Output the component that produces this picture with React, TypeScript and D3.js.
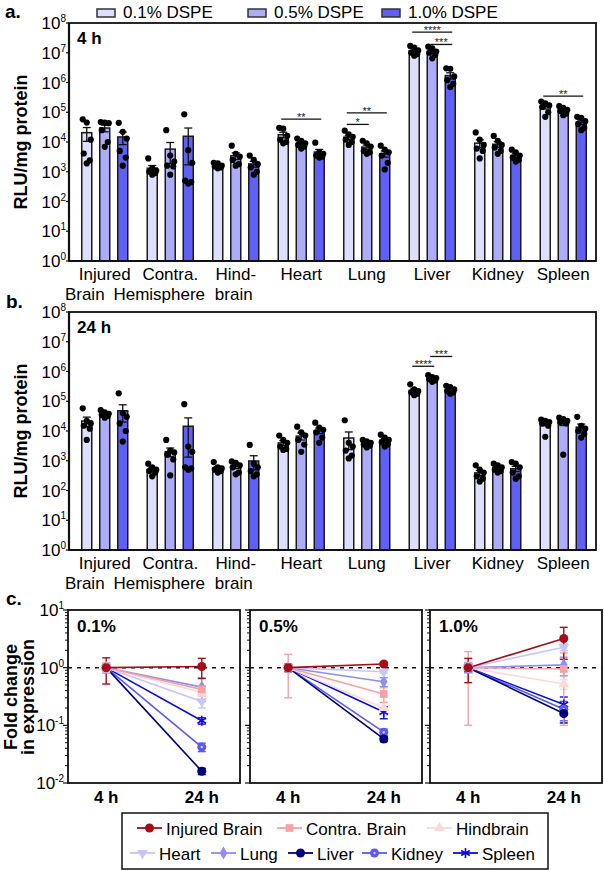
import React from 'react';
import * as d3 from 'd3';

// ---------- DATA ----------
const GROUPS = ['Injured Brain', 'Contra. Hemisphere', 'Hindbrain', 'Heart', 'Lung', 'Liver', 'Kidney', 'Spleen'];
const GROUP_LINE1 = ['Injured', 'Contra.', 'Hind-', 'Heart', 'Lung', 'Liver', 'Kidney', 'Spleen'];
const GROUP_LINE2 = ['Brain', 'Hemisphere', 'brain', '', '', '', '', ''];
const FORMS = ['0.1% DSPE', '0.5% DSPE', '1.0% DSPE'];

// individual animal values (RLU/mg protein), 4 h
const PTS_4H: number[][][] = [
  [[58000, 45000, 12000, 4100, 2400, 1900], [47000, 45000, 43000, 25000, 10000, 6900], [44000, 22000, 13000, 5000, 3000, 1600]],
  [[2800, 1300, 1100, 1000, 900, 800], [25000, 3500, 2200, 1600, 1500, 800], [85000, 5300, 2000, 500, 450, 400]],
  [[2000, 1900, 1600, 1500, 1400, 1300], [7500, 4000, 3200, 2500, 1800, 1600], [3500, 2500, 1800, 1400, 1000, 800]],
  [[30000, 28000, 16000, 12000, 10000, 9000], [13000, 11000, 9000, 8000, 7000, 6000], [9500, 4500, 4000, 3500, 3200, 3000]],
  [[24000, 18000, 15000, 12000, 10000, 8000], [11000, 9000, 7000, 5000, 4500, 4000], [7500, 5500, 4500, 3500, 2000, 1200]],
  [[1.7e7, 1.5e7, 1.2e7, 1.0e7, 9e6, 8e6], [1.6e7, 1.4e7, 1.1e7, 1.0e7, 8.5e6, 6.5e6], [3.0e6, 2.9e6, 1.6e6, 1.2e6, 9e5, 7e5]],
  [[21000, 12000, 8000, 6000, 5000, 2800], [16000, 11000, 8000, 6500, 5000, 4000], [5500, 4500, 3500, 3000, 2500, 2200]],
  [[2.3e5, 2.0e5, 1.7e5, 1.5e5, 1.0e5, 7e4], [1.6e5, 1.4e5, 1.2e5, 1.1e5, 9e4, 8e4], [7e4, 6.5e4, 5e4, 4e4, 3e4, 2.5e4]],
];
// 24 h
const PTS_24H: number[][][] = [
  [[58000, 22000, 18000, 15000, 12000, 5000], [50000, 42000, 38000, 35000, 32000, 28000], [185000, 40000, 30000, 18000, 10000, 4400]],
  [[800, 600, 500, 450, 400, 300], [5000, 2200, 1900, 1600, 1100, 320], [80000, 3000, 2000, 600, 550, 500]],
  [[900, 600, 550, 500, 450, 400], [950, 850, 700, 600, 400, 350], [3400, 800, 600, 450, 350, 300]],
  [[7000, 5000, 4000, 3000, 2500, 2300], [14000, 9000, 7000, 5000, 3500, 2000], [19000, 13000, 11000, 9000, 6000, 4000]],
  [[23000, 4000, 3000, 2200, 1500, 1200], [5000, 4500, 4000, 3500, 3200, 2800], [7500, 6000, 5000, 4200, 3500, 3000]],
  [[3.7e5, 2.5e5, 2.2e5, 2.0e5, 1.8e5, 1.6e5], [7.5e5, 6.5e5, 6e5, 5.5e5, 5e5, 4.5e5], [3.3e5, 3e5, 2.5e5, 2.2e5, 2e5, 1.8e5]],
  [[700, 500, 400, 300, 250, 200], [800, 700, 600, 500, 450, 400], [900, 800, 600, 400, 300, 250]],
  [[24000, 22000, 20000, 18000, 15000, 6400], [28000, 25000, 22000, 20000, 18000, 1600], [30000, 15000, 12000, 10000, 8000, 6000]],
];

// significance brackets: group index, from formulation, to formulation, label, level (RLU)
const SIG_4H = [
  { g: 3, a: 0, b: 2, label: '**', level: 5.9e4 },
  { g: 4, a: 0, b: 1, label: '*', level: 3.9e4 },
  { g: 4, a: 0, b: 2, label: '**', level: 9.5e4 },
  { g: 5, a: 0, b: 2, label: '****', level: 4.9e7 },
  { g: 5, a: 1, b: 2, label: '***', level: 1.9e7 },
  { g: 7, a: 0, b: 2, label: '**', level: 3.5e5 },
];
const SIG_24H = [
  { g: 5, a: 0, b: 1, label: '****', level: 1.5e6 },
  { g: 5, a: 1, b: 2, label: '***', level: 3.2e6 },
];

const Y_TICKS_BAR = [0, 1, 2, 3, 4, 5, 6, 7, 8];

// panel c: fold change (24 h / 4 h)
const SERIES = ['Injured Brain', 'Contra. Brain', 'Hindbrain', 'Heart', 'Lung', 'Liver', 'Kidney', 'Spleen'];
const FOLD_PANELS = ['0.1%', '0.5%', '1.0%'];
const TIMES = ['4 h', '24 h'];
const FOLD_24H = [
  [1.05, 0.42, 0.37, 0.26, 0.46, 0.016, 0.042, 0.12],
  [1.16, 0.35, 0.20, 0.85, 0.57, 0.058, 0.076, 0.17],
  [3.2, 0.95, 0.52, 2.26, 1.12, 0.16, 0.19, 0.23],
];
const ERR_24H = [
  [0.4, 0.06, 0.05, 0.06, 0.2, 0.002, 0.007, 0.015],
  [0.08, 0.1, 0.05, 0.05, 0.1, 0.006, 0.01, 0.04],
  [1.8, 0.85, 0.1, 0.3, 0.4, 0.05, 0.07, 0.08],
];
const ERR_4H = [
  [0.48, 0.2, 0.15, 0.2, 0.2, 0.1, 0.15, 0.1],
  [0.15, 0.7, 0.15, 0.1, 0.1, 0.1, 0.1, 0.1],
  [0.45, 0.9, 0.3, 0.2, 0.2, 0.15, 0.15, 0.2],
];
const Y_TICKS_FOLD = [-2, -1, 0, 1];

// ---------- STYLE ----------
const BAR_COLORS = ['#dedefd', '#acacf9', '#6060f6'];
const SERIES_COLORS = ['#a50d18', '#f7a2a2', '#fbd9d9', '#c6c6fb', '#8e8ef0', '#00007c', '#5a5af2', '#0b0be4'];
const SERIES_MARKERS = ['circle', 'square', 'triangle', 'triangleDown', 'diamond', 'circle', 'circleDot', 'asterisk'];
const LINE2_SHIFT = [-20, -11, -2, 0, 0, 0, 0, 0];
const FONT = "'Liberation Sans', Arial, Helvetica, sans-serif";

function Marker({ type, color, x, y }: { type: string; color: string; x: number; y: number }) {
  const t = `translate(${x},${y})`;
  if (type === 'asterisk') {
    return <path d={d3.symbol(d3.symbolAsterisk, 70)() as string} transform={t} stroke={color} strokeWidth={1.6} fill="none" />;
  }
  if (type === 'circleDot') {
    return (
      <g transform={t}>
        <circle r={4.5} fill={color} />
        <circle r={1.2} fill="#c8c8ff" />
      </g>
    );
  }
  const symMap: Record<string, any> = {
    circle: d3.symbolCircle,
    square: d3.symbolSquare,
    triangle: d3.symbolTriangle,
    triangleDown: d3.symbolTriangle,
    diamond: d3.symbolDiamond,
  };
  const size = type === 'circle' ? 64 : type === 'square' ? 60 : 50;
  const rot = type === 'triangleDown' ? ' rotate(180)' : '';
  return <path d={d3.symbol(symMap[type], size)() as string} transform={t + rot} fill={color} />;
}

function Pow({ x, y, exp, size = 17, sup = 10 }: any) {
  return (
    <text x={x} y={y} textAnchor="end" fontSize={size}>
      10<tspan dy={-7} fontSize={sup}>{exp}</tspan>
    </text>
  );
}

function BarPanel({ top, bottom, pts, sigs, tag }: { top: number; bottom: number; pts: number[][][]; sigs: any[]; tag: string }) {
  const left = 69;
  const right = 596;
  const y = d3.scaleLog().domain([1, 1e8]).range([bottom, top]);
  const x = d3.scaleBand().domain(GROUPS).range([72, 596]);
  const xs = d3.scalePoint().domain(FORMS).range([-18, 18]);
  const bw = 10;
  const jitter = [-4, 0, 4, -3, 3, 0];
  const cx = (g: number, f: number) => (x(GROUPS[g]) as number) + x.bandwidth() / 2 + (xs(FORMS[f]) as number);
  return (
    <g>
      {GROUPS.map((gname, gi) =>
        FORMS.map((fname, fi) => {
          const p = pts[gi][fi];
          const m = d3.mean(p) as number;
          const sem = (d3.deviation(p) as number) / Math.sqrt(p.length);
          const c = cx(gi, fi);
          const yTop = y(m + sem);
          const yLo = y(Math.max(1.01, m - sem));
          return (
            <g key={gname + fname}>
              <rect x={c - bw / 2} y={y(m)} width={bw} height={bottom - y(m)} fill={BAR_COLORS[fi]} stroke="#1a1a1a" strokeWidth={1.5} />
              <line x1={c} x2={c} y1={yTop} y2={yLo} stroke="#111" strokeWidth={1.3} />
              <line x1={c - 4} x2={c + 4} y1={yTop} y2={yTop} stroke="#111" strokeWidth={1.3} />
              <line x1={c - 4} x2={c + 4} y1={yLo} y2={yLo} stroke="#111" strokeWidth={1.3} />
              {p.map((v, k) => (
                <circle key={k} cx={c + jitter[k % jitter.length]} cy={y(v)} r={3.1} fill="#000" />
              ))}
            </g>
          );
        })
      )}
      {sigs.map((s, i) => {
        const x1 = cx(s.g, s.a) - 2;
        const x2 = cx(s.g, s.b) + 2;
        const ly = y(s.level);
        return (
          <g key={i}>
            <line x1={x1} x2={x2} y1={ly} y2={ly} stroke="#111" strokeWidth={1.3} />
            <text x={(x1 + x2) / 2} y={ly + 2} textAnchor="middle" fontSize={11} fill="#222">{s.label}</text>
          </g>
        );
      })}
      {/* frame */}
      <rect x={left} y={top} width={right - left} height={bottom - top} fill="none" stroke="#111" strokeWidth={1.8} />
      <line x1={left} x2={left} y1={top} y2={bottom} stroke="#111" strokeWidth={2.2} />
      <line x1={left} x2={right} y1={bottom} y2={bottom} stroke="#111" strokeWidth={2.2} />
      {Y_TICKS_BAR.map((k) => (
        <g key={k}>
          <line x1={left - 3} x2={left} y1={y(Math.pow(10, k))} y2={y(Math.pow(10, k))} stroke="#111" strokeWidth={1.2} />
          <Pow x={66} y={y(Math.pow(10, k)) + 6} exp={k} />
        </g>
      ))}
      {GROUPS.map((g, i) => {
        const c = (x(g) as number) + x.bandwidth() / 2;
        return (
          <g key={g} fontSize={17}>
            <text x={c} y={bottom + 19} textAnchor="middle">{GROUP_LINE1[i]}</text>
            {GROUP_LINE2[i] && <text x={c + LINE2_SHIFT[i]} y={bottom + 39} textAnchor="middle">{GROUP_LINE2[i]}</text>}
          </g>
        );
      })}
      <text x={77} y={top + 21} fontSize={17} fontWeight="bold">{tag}</text>
      <text transform={`translate(27,${(top + bottom) / 2}) rotate(-90)`} textAnchor="middle" fontSize={18} fontWeight="bold">
        RLU/mg protein
      </text>
    </g>
  );
}

function FoldPanel({ idx, left }: { idx: number; left: number }) {
  const top = 610;
  const bottom = 783;
  const right = left + 172;
  const y = d3.scaleLog().domain([0.01, 10]).range([bottom, top]);
  const x = d3.scalePoint().domain(TIMES).range([left, right]).padding(0.4);
  const x0 = x('4 h') as number;
  const x1 = x('24 h') as number;
  const minor: number[] = [];
  for (let k = -2; k < 1; k++) for (let m = 2; m <= 9; m++) minor.push(m * Math.pow(10, k));
  const order = SERIES.map((_, i) => SERIES.length - 1 - i);
  const errBar = (xc: number, v: number, e: number, color: string, key: string) => {
    const yt = y(v + e);
    const yb = y(Math.max(0.0101, v - e));
    return (
      <g key={key} stroke={color} strokeWidth={1.4}>
        <line x1={xc} x2={xc} y1={yt} y2={yb} />
        <line x1={xc - 4} x2={xc + 4} y1={yt} y2={yt} />
        <line x1={xc - 4} x2={xc + 4} y1={yb} y2={yb} />
      </g>
    );
  };
  return (
    <g>
      <line x1={left} x2={right} y1={y(1)} y2={y(1)} stroke="#111" strokeWidth={1.5} strokeDasharray="4,5" />
      {order.map((i) => {
        const v = FOLD_24H[idx][i];
        const col = SERIES_COLORS[i];
        return (
          <g key={SERIES[i]}>
            <line x1={x0} x2={x1} y1={y(1)} y2={y(v)} stroke={col} strokeWidth={1.6} />
            {errBar(x0, 1, ERR_4H[idx][i], col, 'e4')}
            {errBar(x1, v, ERR_24H[idx][i], col, 'e24')}
          </g>
        );
      })}
      {order.map((i) => (
        <g key={'m' + i}>
          <Marker type={SERIES_MARKERS[i]} color={SERIES_COLORS[i]} x={x0} y={y(1)} />
          <Marker type={SERIES_MARKERS[i]} color={SERIES_COLORS[i]} x={x1} y={y(FOLD_24H[idx][i])} />
        </g>
      ))}
      <rect x={left} y={top} width={right - left} height={bottom - top} fill="none" stroke="#111" strokeWidth={1.8} />
      {Y_TICKS_FOLD.map((k) => (
        <line key={k} x1={left - 5} x2={left} y1={y(Math.pow(10, k))} y2={y(Math.pow(10, k))} stroke="#111" strokeWidth={1.2} />
      ))}
      {minor.map((v, i) => (
        <line key={i} x1={left - 3} x2={left} y1={y(v)} y2={y(v)} stroke="#111" strokeWidth={1} />
      ))}
      {idx === 0 &&
        Y_TICKS_FOLD.map((k) => <Pow key={k} x={64} y={y(Math.pow(10, k)) + 6} exp={k} />)}
      {TIMES.map((t) => (
        <text key={t} x={x(t) as number} y={803} textAnchor="middle" fontSize={17} fontWeight="bold">{t}</text>
      ))}
      <text x={left + 9} y={632} fontSize={17} fontWeight="bold">{FOLD_PANELS[idx]}</text>
    </g>
  );
}

const LEGEND_ROWS = [
  [0, 1, 2],
  [3, 4, 5, 6, 7],
];
const LEGEND_X = [
  [137, 277, 427],
  [130, 211, 288, 362, 453],
];

export default function App() {
  const topLegendX = [97, 248, 382];
  return (
    <svg width={604} height={871} style={{ position: 'absolute', left: 0, top: 0, display: 'block' }} fontFamily={FONT}>
      <rect width={604} height={871} fill="#fff" />
      {/* top legend */}
      {FORMS.map((f, i) => (
        <g key={f}>
          <rect x={topLegendX[i]} y={9} width={18} height={8} fill={BAR_COLORS[i]} stroke="#333" strokeWidth={1.5} />
          <text x={topLegendX[i] + 26} y={18} fontSize={17}>{f}</text>
        </g>
      ))}
      <text x={5} y={18} fontSize={19} fontWeight="bold">a.</text>
      <text x={6} y={308} fontSize={19} fontWeight="bold">b.</text>
      <text x={6} y={605} fontSize={19} fontWeight="bold">c.</text>

      <BarPanel top={23} bottom={261} pts={PTS_4H} sigs={SIG_4H} tag="4 h" />
      <BarPanel top={312} bottom={550} pts={PTS_24H} sigs={SIG_24H} tag="24 h" />

      {[68, 250, 430].map((l, i) => (
        <FoldPanel key={i} idx={i} left={l} />
      ))}
      <text transform="translate(17,697) rotate(-90)" textAnchor="middle" fontSize={18} fontWeight="bold">Fold change</text>
      <text transform="translate(34,697) rotate(-90)" textAnchor="middle" fontSize={18} fontWeight="bold">in expression</text>

      {/* bottom legend */}
      <rect x={122} y={813} width={426} height={56} fill="#fff" stroke="#111" strokeWidth={1.5} />
      {LEGEND_ROWS.map((row, r) =>
        row.map((si, j) => {
          const lx = LEGEND_X[r][j];
          const cy = 828 + r * 25;
          return (
            <g key={si}>
              <line x1={lx} x2={lx + 25} y1={cy} y2={cy} stroke={SERIES_COLORS[si]} strokeWidth={1.8} />
              <Marker type={SERIES_MARKERS[si]} color={SERIES_COLORS[si]} x={lx + 12.5} y={cy} />
              <text x={lx + 29} y={cy + 6.5} fontSize={17}>{SERIES[si]}</text>
            </g>
          );
        })
      )}
    </svg>
  );
}
